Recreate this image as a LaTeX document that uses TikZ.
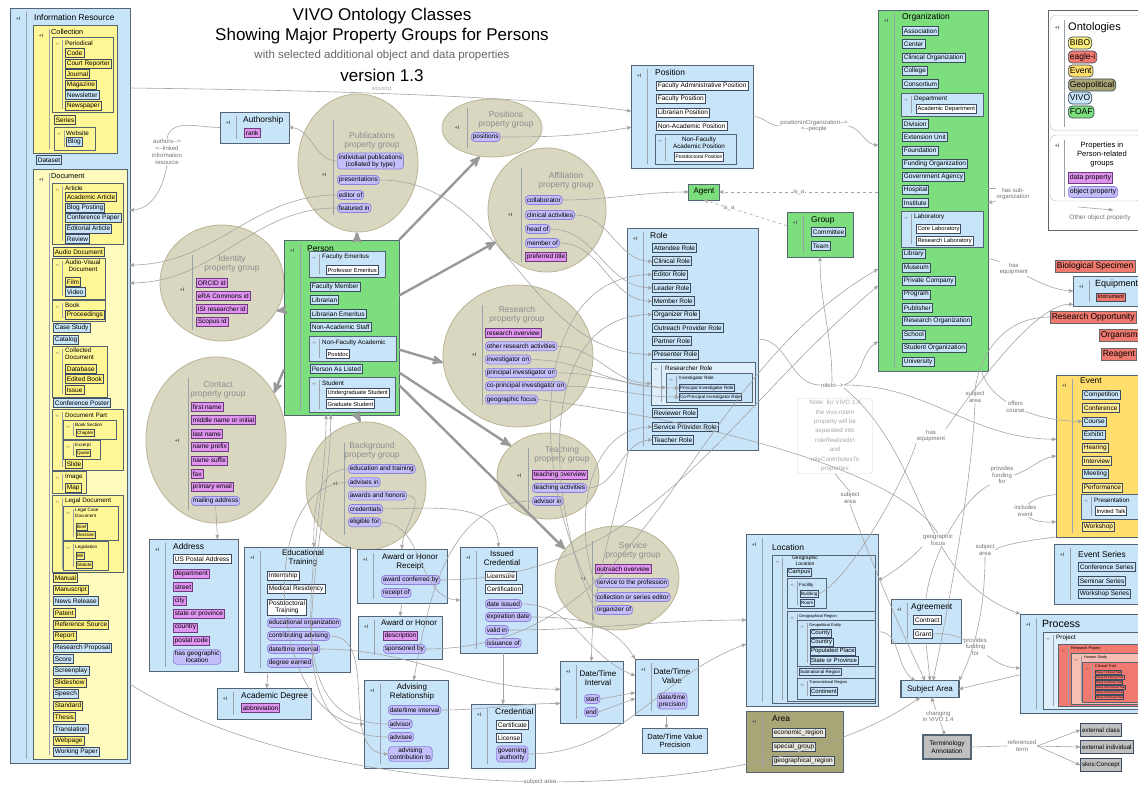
\documentclass[tikz,border=0pt]{standalone}
\usepackage{fontspec}
\setmainfont{Liberation Sans}[Ligatures=TeXOff]
\usepackage{tikz}
\usetikzlibrary{arrows}
\usetikzlibrary{shapes.geometric,positioning}

\definecolor{vivo}{RGB}{200,228,248}
\definecolor{vivoL}{RGB}{222,238,250}
\definecolor{bline}{RGB}{85,100,115}
\definecolor{iline}{RGB}{60,75,95}
\definecolor{orgG}{RGB}{125,222,125}
\definecolor{biboC}{RGB}{255,246,150}
\definecolor{docY}{RGB}{255,250,190}
\definecolor{bibI}{RGB}{255,240,125}
\definecolor{evtY}{RGB}{255,222,110}
\definecolor{evtI}{RGB}{255,236,150}
\definecolor{dataP}{RGB}{224,150,240}
\definecolor{dataL}{RGB}{110,60,125}
\definecolor{objP}{RGB}{196,190,250}
\definecolor{objL}{RGB}{140,130,220}
\definecolor{grpF}{RGB}{218,215,192}
\definecolor{grpL}{RGB}{185,180,150}
\definecolor{eagR}{RGB}{240,122,112}
\definecolor{eagL}{RGB}{248,190,180}
\definecolor{geoO}{RGB}{168,165,118}
\definecolor{grayB}{RGB}{192,192,192}
\definecolor{conn}{RGB}{165,165,165}

\tikzset{
  box/.style={draw=bline,line width=.8pt,inner sep=0pt,outer sep=0pt},
  plus/.style={font=\fontsize{5}{5}\selectfont\bfseries,text=black!65,inner sep=0pt},
  sepl/.style={draw=bline!60,line width=.5pt},
  ttl/.style={anchor=west,inner sep=0pt,font=\fontsize{8.4}{9}\selectfont},
  mtl/.style={ttl,font=\fontsize{7.3}{8}\selectfont},
  stl/.style={ttl,font=\fontsize{6.3}{7}\selectfont},
  sstl/.style={ttl,font=\fontsize{4.6}{5.6}\selectfont},
  ctl/.style={align=center,inner sep=0pt,font=\fontsize{8}{8.8}\selectfont},
  it/.style={draw=iline,fill=vivo,line width=.7pt,anchor=west,inner sep=1.5pt,
    minimum height=9pt,font=\fontsize{6.5}{7}\selectfont},
  wit/.style={it,fill=white},
  pit/.style={it,fill=white,font=\fontsize{5.8}{6}\selectfont,minimum height=8.5pt,inner sep=1.2pt},
  bib/.style={it,fill=bibI},
  evi/.style={it,fill=evtI},
  dp/.style={it,fill=dataP,draw=dataL},
  op/.style={it,fill=objP,draw=objL,rounded corners=3.5pt,align=center},
  sit/.style={it,line width=.5pt,inner sep=.8pt,minimum height=7pt,font=\fontsize{4.6}{5}\selectfont},
  sbib/.style={sit,fill=bibI},
  git/.style={sit,font=\fontsize{6}{6}\selectfont,minimum height=8pt},
  tit/.style={sit,fill=eagR,line width=.3pt,inner sep=.4pt,minimum height=4.6pt,font=\fontsize{2.8}{3}\selectfont},
  eag/.style={it,fill=eagR,draw=black!60,font=\fontsize{8.5}{9}\selectfont,minimum height=12pt},
  leg/.style={it,rounded corners=4pt,font=\fontsize{8.5}{9}\selectfont,minimum height=12pt},
  grp/.style={ellipse,draw=grpL,fill=grpF,line width=.8pt,inner sep=0pt},
  gtl/.style={align=center,text=black!45,font=\fontsize{8.5}{9.5}\selectfont},
  lbl/.style={align=center,text=black!55,fill=white,inner sep=.6pt,font=\fontsize{6}{6.8}\selectfont},
  cn/.style={draw=conn,line width=.6pt,->},
  thk/.style={draw=black!40,line width=2.4pt,->},
}

\newcommand{\ontbox}[6][vivo]{%
  \node[box,fill=#1,minimum width={#5-#3},minimum height={#6-#4}] (#2) at ({(#3+#5)/2},{(#4+#6)/2}) {};
  \node[plus] (#2-p) at (#3+8,#4+11) {+I};
  \draw[sepl] (#3+16,#4+4) -- (#3+16,#6-4);
}
\newcommand{\ontsub}[6][vivo]{%
  \node[box,line width=.5pt,fill=#1,minimum width={#5-#3},minimum height={#6-#4}] (#2) at ({(#3+#5)/2},{(#4+#6)/2}) {};
  \node[plus,font=\fontsize{3.5}{3.5}\selectfont] (#2-p) at (#3+5,#4+7) {+I};
  \draw[sepl,line width=.35pt] (#3+10,#4+3) -- (#3+10,#6-3);
}

\begin{document}
\begin{tikzpicture}[>=stealth',x=1pt,y=-1pt]
\useasboundingbox (0,0) rectangle (1138,789);
\fill[white] (0,0) rectangle (1138,789);
\clip (0,0) rectangle (1138,789);

% titles
\node[font=\fontsize{17}{17}\selectfont] (tt1) at (382,16) {VIVO Ontology Classes};
\node[font=\fontsize{17}{17}\selectfont] (tt2) at (382,36) {Showing Major Property Groups for Persons};
\node[font=\fontsize{11.5}{12}\selectfont,text=black!60] (tt3) at (382,56) {with selected additional object and data properties};
\node[font=\fontsize{17}{17}\selectfont] (tt4) at (382,75) {version 1.3};
\node[font=\fontsize{4.5}{5}\selectfont,text=black!40] (tt5) at (382,89) {8/21/2011};

% information resource
\ontbox{ir}{10}{8}{130}{763}
\node[ttl] (irT) at (34,17) {Information Resource};
\ontbox[biboC]{coll}{33}{25}{117}{153}
\node[mtl] (collT) at (51,32) {Collection};
\ontsub[biboC]{per}{52}{37}{113}{112}
\node[stl] (perT) at (65,43) {Periodical};
\foreach \nm/\s [count=\i] in {Code/bib,Court Reporter/bib,Journal/bib,Magazine/bib,Newsletter/it,Newspaper/bib}
  \node[\s] (per\i) at (65,42.5+10.5*\i) {\nm};
\node[bib] (ser) at (54,120) {Series};
\ontsub[biboC]{web}{54}{127}{95}{150}
\node[stl] (webT) at (66,133) {Website};
\node[it] (blog) at (66,142) {Blog};
\node[it] (dset) at (36,160) {Dataset};

\ontbox[docY]{doc}{33}{169}{127}{759}
\node[mtl] (docT) at (51,176) {Document};
\ontsub[biboC]{art}{52}{183}{123}{244}
\node[stl] (artT) at (65,188) {Article};
\foreach \nm/\s [count=\i] in {Academic Article/bib,Blog Posting/it,Conference Paper/it,Editorial Article/it,Review/it}
  \node[\s] (art\i) at (65,186.5+10.5*\i) {\nm};
\node[bib] (aud) at (53,252) {Audio Document};
\ontsub[biboC]{av}{52}{258}{105}{299}
\node[stl,anchor=center,align=center] (avT) at (83,266) {Audio-Visual\\Document};
\node[bib] (film) at (65,282) {Film};
\node[it] (video) at (65,292) {Video};
\ontsub[biboC]{book}{52}{300}{105}{321}
\node[stl] (bookT) at (65,305) {Book};
\node[bib] (prcd) at (65,315) {Proceedings};
\node[it] (cstd) at (53,328) {Case Study};
\node[it] (catl) at (53,340) {Catalog};
\ontsub[biboC]{cold}{52}{346}{107}{397}
\node[stl,anchor=north west,align=left] (coldT) at (65,348) {Collected\\Document};
\node[bib] (cd1) at (65,369) {Database};
\node[bib] (cd2) at (65,379) {Edited Book};
\node[bib] (cd3) at (65,390) {Issue};
\node[it] (cpst) at (53,403) {Conference Poster};
\ontsub[biboC]{dpt}{52}{409}{123}{470}
\node[stl] (dptT) at (65,415) {Document Part};
\ontsub[biboC]{bsec}{63}{420}{116}{439}
\node[sstl] (bsecT) at (75,425) {Book Section};
\node[sbib] (chap) at (76,433) {Chapter};
\ontsub[biboC]{exc}{63}{440}{100}{459}
\node[sstl] (excT) at (75,445) {Excerpt};
\node[sbib] (quot) at (76,453) {Quote};
\node[bib] (slid) at (65,464) {Slide};
\ontsub[biboC]{img}{52}{471}{86}{493}
\node[stl] (imgT) at (65,477) {Image};
\node[bib] (map) at (65,488) {Map};
\ontsub[biboC]{legd}{52}{495}{123}{572}
\node[stl] (legdT) at (65,501) {Legal Document};
\ontsub[biboC]{lcd}{63}{506}{118}{540}
\node[sstl,anchor=north west,align=left] (lcdT) at (75,508) {Legal Case\\Document};
\node[sbib] (brief) at (76,527) {Brief};
\node[sbib] (deci) at (76,535) {Decision};
\ontsub[biboC]{legs}{63}{541}{108}{570}
\node[sstl] (legsT) at (75,547) {Legislation};
\node[sbib] (bill) at (76,556) {Bill};
\node[sbib] (stat) at (76,565) {Statute};
\foreach \nm/\s [count=\i] in {Manual/bib,Manuscript/bib,News Release/it,Patent/bib,Reference Source/bib,Report/bib,Research Proposal/it,Score/it,Screenplay/it,Slideshow/bib,Speech/it,Standard/bib,Thesis/bib,Translation/it,Webpage/bib,Working Paper/it}
  \node[\s] (dl\i) at (53,566.4+11.6*\i) {\nm};

% authorship
\ontbox{auth}{220}{112}{289}{143}
\node[ttl] (authT) at (243,120) {Authorship};
\node[dp] (rank) at (244,133) {rank};
\node[lbl] (authl) at (167,152) {authors-->\\<--linked\\information\\resource};

% property groups
\node[grp,minimum width=120,minimum height=138] (pub) at (358,163) {};
\node[plus] (pub-p) at (324,175) {+I};
\draw[sepl] (333,120) -- (333,215);
\node[gtl] (pubT) at (372,141) {Publications\\property group};
\node[op] (pu1) at (337,161) {individual publications\\(collated by type)};
\node[op] (pu2) at (337,180) {presentations};
\node[op] (pu3) at (337,195) {editor of};
\node[op] (pu4) at (337,208) {featured in};

\node[grp,minimum width=100,minimum height=58] (posg) at (492,128) {};
\node[plus] (posg-p) at (457,128) {+I};
\draw[sepl] (467,108) -- (467,148);
\node[gtl] (posgT) at (506,120) {Positions\\property group};
\node[op] (pg1) at (471,137) {positions};

\node[grp,minimum width=118,minimum height=124] (aff) at (547,210) {};
\node[plus] (aff-p) at (510,215) {+I};
\draw[sepl] (521,168) -- (521,262);
\node[gtl] (affT) at (566,181) {Affiliation\\property group};
\node[op] (af1) at (525,200) {collaborator};
\node[op] (af2) at (525,215) {clinical activities};
\node[op] (af3) at (525,229) {head of};
\node[op] (af4) at (525,243) {member of};
\node[dp] (af5) at (525,257) {preferred title};

\node[grp,minimum width=124,minimum height=116] (ident) at (222,283) {};
\node[plus] (ident-p) at (182,290) {+I};
\draw[sepl] (192,255) -- (192,330);
\node[gtl] (identT) at (232,264) {Identity\\property group};
\node[dp] (id1) at (196,283) {ORCID id};
\node[dp] (id2) at (196,296) {eRA Commons id};
\node[dp] (id3) at (196,309) {ISI researcher id};
\node[dp] (id4) at (196,322) {Scopus id};

\node[grp,minimum width=140,minimum height=166] (cont) at (216,440) {};
\node[plus] (cont-p) at (177,441) {+I};
\draw[sepl] (188,378) -- (188,510);
\node[gtl] (contT) at (218,390) {Contact\\property group};
\foreach \nm [count=\i] in {first name,middle name or initial,last name,name prefix,name suffix,fax,primary email}
  \node[dp] (ct\i) at (191,393.5+13.4*\i) {\nm};
\node[op] (ct8) at (191,501) {mailing address};

\node[grp,minimum width=150,minimum height=142] (res) at (518,356) {};
\node[plus] (res-p) at (474,355) {+I};
\draw[sepl] (482,305) -- (482,405);
\node[gtl] (resT) at (517,315) {Research\\property group};
\node[dp] (rs1) at (485,333) {research overview};
\foreach \nm [count=\i from 2] in {other research activities,investigator on,principal investigator on,co-principal investigator on,geographic focus}
  \node[op] (rs\i) at (485,319.7+13.3*\i) {\nm};

\node[grp,minimum width=102,minimum height=86] (teach) at (548,476) {};
\node[plus] (teach-p) at (519,476) {+I};
\draw[sepl] (528,448) -- (528,510);
\node[gtl] (teachT) at (562,455) {Teaching\\property group};
\node[dp] (tc1) at (532,475) {teaching overview};
\node[op] (tc2) at (532,488) {teaching activities};
\node[op] (tc3) at (532,501) {advisor in};

\node[grp,minimum width=120,minimum height=128] (bg) at (366,486) {};
\node[plus] (bg-p) at (335,484) {+I};
\draw[sepl] (344,443) -- (344,535);
\node[gtl] (bgT) at (372,451) {Background\\property group};
\foreach \nm [count=\i] in {education and training,advises in,awards and honors,credentials,eligible for}
  \node[op] (bg\i) at (348,455.7+13.3*\i) {\nm};

\node[grp,minimum width=124,minimum height=104] (serv) at (617,578) {};
\node[plus] (serv-p) at (583,579) {+I};
\draw[sepl] (592,541) -- (592,620);
\node[gtl] (servT) at (633,551) {Service\\property group};
\node[dp] (sv1) at (595,569) {outreach overview};
\node[op] (sv2) at (595,583) {service to the profession};
\node[op] (sv3) at (595,597) {collection or series editor};
\node[op] (sv4) at (595,610) {organizer of};

% person
\ontbox[orgG]{person}{284}{240}{399}{415}
\node[ttl] (personT) at (307,249) {Person};
\ontsub{femr}{309}{251}{385}{277}
\node[stl] (femrT) at (322,257) {Faculty Emeritus};
\node[pit] (pe1) at (326,270) {Professor Emeritus};
\node[it] (pe2) at (310,287) {Faculty Member};
\node[it] (pe3) at (310,300) {Librarian};
\node[it] (pe4) at (310,314) {Librarian Emeritus};
\node[it] (pe5) at (310,327) {Non-Academic Staff};
\ontsub{nfa}{309}{336}{396}{361}
\node[stl] (nfaT) at (322,343) {Non-Faculty Academic};
\node[pit] (pdoc) at (326,354) {Postdoc};
\node[it] (pe6) at (310,369) {Person As Listed};
\ontsub{stud}{309}{377}{395}{412}
\node[stl] (studT) at (322,383) {Student};
\node[pit] (pe7) at (326,393) {Undergraduate Student};
\node[pit] (pe8) at (326,404) {Graduate Student};

% position, agent, group, role
\ontbox{pos}{631}{65}{753}{168}
\node[ttl] (posT) at (655,72) {Position};
\foreach \nm [count=\i] in {Faculty Administrative Position,Faculty Position,Librarian Position,Non-Academic Position}
  \node[wit] (po\i) at (656,72.7+13.3*\i) {\nm};
\ontsub{nfap}{655}{134}{736}{164}
\node[stl,anchor=center,align=center] (nfapT) at (699,143) {Non-Faculty\\Academic Position};
\node[pit,font=\fontsize{5}{5}\selectfont] (po5) at (674,157) {Postdoctoral Position};
\node[lbl] (pio) at (814,126) {positionInOrganization-->\\<--people};

\node[box,fill=orgG,minimum width=31,minimum height=16,font=\fontsize{8}{8}\selectfont] (agent) at (704,192) {Agent};

\ontbox[orgG]{grp}{787}{212}{853}{257}
\node[ttl] (grpT) at (811,220) {Group};
\node[it] (gr1) at (811,232) {Committee};
\node[it] (gr2) at (811,246) {Team};

\ontbox{role}{627}{228}{758}{450}
\node[ttl] (roleT) at (650,235) {Role};
\foreach \nm [count=\i] in {Attendee Role,Clinical Role,Editor Role,Leader Role,Member Role,Organizer Role,Outreach Provider Role,Partner Role,Presenter Role}
  \node[it] (rl\i) at (652,234.7+13.3*\i) {\nm};
\ontsub[vivoL]{rsr}{651}{362}{755}{405}
\node[stl] (rsrT) at (665,368) {Researcher Role};
\ontsub{ivr}{666}{373}{752}{402}
\node[sstl] (ivrT) at (679,378) {Investigator Role};
\node[sit] (pir) at (679,388) {Principal Investigator Role};
\node[sit] (cpir) at (679,397) {Co-Principal Investigator Role};
\node[it] (rl10) at (652,413) {Reviewer Role};
\node[it] (rl11) at (652,427) {Service Provider Role};
\node[it] (rl12) at (652,440) {Teacher Role};

\node[draw=black!15,rounded corners=4pt,text=black!35,align=center,inner sep=2pt,minimum width=75,
  font=\fontsize{6.2}{9.4}\selectfont] (note) at (835,436) {Note: for VIVO 1.4\\the vivo:roleIn\\property will be\\separated into\\roleRealizedIn\\and\\roleContributesTo\\properties};
\node[lbl] (rin) at (832,385) {roleIn-->};

% organization
\ontbox[orgG]{org}{878}{10}{988}{371}
\node[ttl] (orgT) at (902,17) {Organization};
\foreach \nm [count=\i] in {Association,Center,Clinical Organization,College,Consortium}
  \node[it] (oa\i) at (902,17.8+13.2*\i) {\nm};
\ontsub{dept}{901}{93}{983}{116}
\node[stl] (deptT) at (914,99) {Department};
\node[pit] (od) at (916,109) {Academic Department};
\foreach \nm [count=\i] in {Division,Extension Unit,Foundation,Funding Organization,Government Agency,Hospital,Institute}
  \node[it] (ob\i) at (902,110.8+13.2*\i) {\nm};
\ontsub{lab}{901}{211}{983}{247}
\node[stl] (labT) at (914,217) {Laboratory};
\node[pit] (ol1) at (916,229) {Core Laboratory};
\node[pit] (ol2) at (916,241) {Research Laboratory};
\foreach \nm [count=\i] in {Library,Museum,Private Company,Program,Publisher,Research Organization,School,Student Organization,University}
  \node[it] (oc\i) at (902,240.8+13.4*\i) {\nm};
\node[lbl] (hso) at (1013,194) {has sub-\\organization};

% legend
\node[draw=black!60,fill=white,minimum width=100,minimum height=220,inner sep=0pt] (leg0) at (1098,120) {};
\node[draw=black!25,rounded corners=6pt,minimum width=92,minimum height=115,inner sep=0pt] (legO) at (1096,73) {};
\node[plus] (legO-p) at (1057,28) {+I};
\draw[sepl] (1064,20) -- (1064,127);
\node[ttl,font=\fontsize{11}{11}\selectfont] (legOT) at (1068,28) {Ontologies};
\node[leg,fill=bibI] (lo1) at (1068,43) {BIBO};
\node[leg,fill=eagR] (lo2) at (1068,57) {eagle-i};
\node[leg,fill=evtY] (lo3) at (1068,71) {Event};
\node[leg,fill=geoO] (lo4) at (1068,85) {Geopolitical};
\node[leg,fill=vivo] (lo5) at (1068,98) {VIVO};
\node[leg,fill=orgG] (lo6) at (1068,112) {FOAF};
\node[draw=black!25,rounded corners=6pt,minimum width=92,minimum height=66,inner sep=0pt] (legP) at (1096,168) {};
\node[plus] (legP-p) at (1057,146) {+I};
\draw[sepl] (1064,140) -- (1064,197);
\node[align=center,font=\fontsize{7.6}{9}\selectfont] (legPT) at (1102,155) {Properties in\\Person-related\\groups};
\node[dp,font=\fontsize{7}{7}\selectfont,minimum height=11pt] (legD) at (1068,178) {data property};
\node[op,font=\fontsize{7}{7}\selectfont,minimum height=11pt] (legB) at (1068,192) {object property};
\coordinate (lgA) at (1078,207);
\coordinate (lgB) at (1113,210);
\node[text=black!55,font=\fontsize{6.5}{7}\selectfont] (lgT) at (1100,218) {Other object property};

% eagle-i and events
\node[eag] (bio) at (1055,266) {Biological Specimen};
\ontbox{equip}{1073}{276}{1148}{306}
\node[ttl,font=\fontsize{9}{9}\selectfont] (equipT) at (1095,284) {Equipment};
\node[it,fill=eagR,font=\fontsize{5.5}{6}\selectfont,minimum height=8pt] (instr) at (1096,297) {Instrument};
\node[eag] (resop) at (1050,317) {Research Opportunity};
\node[eag] (orgm) at (1099,335) {Organism};
\node[eag] (reag) at (1101,354) {Reagent};

\ontbox[evtY]{event}{1056}{375}{1148}{537}
\node[ttl] (eventT) at (1080,381) {Event};
\foreach \nm/\s [count=\i] in {Competition/it,Conference/evi,Course/it,Exhibit/it,Hearing/evi,Interview/evi,Meeting/it,Performance/evi}
  \node[\s] (ev\i) at (1082,381.8+13.2*\i) {\nm};
\ontsub{pres}{1081}{494}{1140}{519}
\node[stl] (presT) at (1094,500) {Presentation};
\node[pit] (itlk) at (1095,511) {Invited Talk};
\node[evi] (ev9) at (1082,527) {Workshop};

\ontbox{evser}{1054}{544}{1148}{604}
\node[ttl] (evserT) at (1078,554) {Event Series};
\node[it] (es1) at (1078,567) {Conference Series};
\node[it] (es2) at (1078,581) {Seminar Series};
\node[it] (es3) at (1078,594) {Workshop Series};

\ontbox{proc}{1020}{614}{1148}{713}
\node[ttl,font=\fontsize{10.5}{11}\selectfont] (procT) at (1042,624) {Process};
\ontsub[vivoL]{prj}{1043}{632}{1148}{709}
\node[stl] (prjT) at (1056,638) {Project};
\ontsub[eagR]{rpj}{1058}{644}{1148}{706}
\node[sstl,font=\fontsize{3.8}{4}\selectfont] (rpjT) at (1071,649) {Research Project};
\ontsub[eagL]{hst}{1071}{653}{1148}{704}
\node[sstl,font=\fontsize{3.8}{4}\selectfont] (hstT) at (1084,658) {Human Study};
\ontsub[eagR]{ctr}{1082}{662}{1148}{702}
\node[sstl,font=\fontsize{3.8}{4}\selectfont] (ctrT) at (1095,666) {Clinical Trial};
\foreach \nm [count=\i] in {Phase I Clinical Trial,Phase I/II Clinical Trial,Phase II Clinical Trial,Phase II/III Clinical Trial,Phase III Clinical Trial,Phase IV Clinical Trial}
  \node[tit] (ph\i) at (1095,667+5*\i) {\nm};

% agreement, subject area, terminology
\ontbox{agr}{891}{599}{961}{643}
\node[ttl] (agrT) at (911,607) {Agreement};
\node[wit] (ag1) at (913,620) {Contract};
\node[wit] (ag2) at (913,634) {Grant};
\node[box,fill=vivo,line width=1.2pt,minimum width=58,minimum height=17,font=\fontsize{8}{8}\selectfont] (subj) at (930,689) {Subject Area};
\node[box,fill=grayB,line width=1.2pt,align=center,minimum width=48,minimum height=24,font=\fontsize{6.5}{7.5}\selectfont] (term) at (947,747) {Terminology\\Annotation};
\node[it,fill=grayB,line width=1pt,minimum height=13pt,font=\fontsize{6.2}{7}\selectfont] (ex1) at (1080,730) {external class};
\node[it,fill=grayB,line width=1pt,minimum height=13pt,font=\fontsize{6.2}{7}\selectfont] (ex2) at (1080,747) {external individual};
\node[it,fill=grayB,line width=1pt,minimum height=13pt,font=\fontsize{6.2}{7}\selectfont] (ex3) at (1080,765) {skos:Concept};

% location and area
\ontbox{loc}{746}{534}{878}{706}
\node[ttl] (locT) at (772,547) {Location};
\ontsub{geol}{772}{555}{875}{703}
\node[sstl,anchor=north,align=center,font=\fontsize{5}{5.8}\selectfont] (geolT) at (805,556) {Geographic\\Location};
\node[git] (camp) at (787,572) {Campus};
\ontsub{fac}{787}{578}{826}{608}
\node[sstl] (facT) at (799,585) {Facility};
\node[sit] (fa1) at (800,594) {Building};
\node[sit] (fa2) at (800,603) {Room};
\ontsub{geor}{787}{611}{875}{701}
\node[sstl,font=\fontsize{4}{4}\selectfont] (georT) at (799,616) {Geographical Region};
\ontsub{gpe}{797}{620}{875}{666}
\node[sstl,font=\fontsize{4}{4}\selectfont] (gpeT) at (809,625) {Geopolitical Entity};
\foreach \nm [count=\i] in {County,Country,Populated Place,State or Province}
  \node[git] (ge\i) at (810,624+9*\i) {\nm};
\node[sit] (snr) at (799,672) {Subnational Region};
\ontsub{tnr}{797}{678}{875}{699}
\node[sstl,font=\fontsize{4}{4}\selectfont] (tnrT) at (809,682) {Transnational Region};
\node[git] (ctn) at (810,691) {Continent};

\ontbox[geoO]{area}{746}{711}{843}{772}
\node[ttl] (areaT) at (772,719) {Area};
\node[it,fill=geoO!25] (ar1) at (772,733) {economic\_region};
\node[it,fill=geoO!25] (ar2) at (772,747) {special\_group};
\node[it,fill=geoO!25] (ar3) at (772,761) {geographical\_region};

% date/time
\ontbox{dti}{560}{661}{623}{723}
\node[ctl] (dtiT) at (598,678) {Date/Time\\Interval};
\node[op] (dt1) at (584,699) {start};
\node[op] (dt2) at (584,712) {end};
\ontbox{dtv}{635}{659}{698}{715}
\node[ctl] (dtvT) at (672,676) {Date/Time\\Value};
\node[op] (dv1) at (657,701) {date/time\\precision};
\node[box,fill=vivo,align=center,minimum width=65,minimum height=25,font=\fontsize{7.5}{8.5}\selectfont] (dtvp) at (675,741) {Date/Time Value\\Precision};

% address, training, awards, credentials
\ontbox{addr}{149}{539}{238}{671}
\node[ttl] (addrT) at (173,546) {Address};
\node[wit] (ad1) at (173,559) {US Postal Address};
\foreach \nm [count=\i] in {department,street,city,state or province,country,postal code}
  \node[dp] (adp\i) at (173,560.5+13.4*\i) {\nm};
\node[op] (ad8) at (173,657) {has geographic\\location};

\ontbox{edu}{244}{547}{350}{672}
\node[ctl] (eduT) at (303,558) {Educational\\Training};
\node[wit] (ed1) at (267,576) {Internship};
\node[wit] (ed2) at (267,589) {Medical Residency};
\node[wit,align=center] (ed3) at (267,607) {Postdoctoral\\Training};
\node[op] (ed4) at (267,623) {educational organization};
\node[op] (ed5) at (267,636) {contributing advising};
\node[op] (ed6) at (267,649) {date/time interval};
\node[op] (ed7) at (267,663) {degree earned};

\ontbox{deg}{217}{688}{311}{719}
\node[ttl] (degT) at (241,696) {Academic Degree};
\node[dp] (dg1) at (241,708) {abbreviation};

\ontbox{ahr}{357}{549}{447}{603}
\node[ctl] (ahrT) at (410,562) {Award or Honor\\Receipt};
\node[op] (ah1) at (381,580) {award conferred by};
\node[op] (ah2) at (381,593) {receipt of};

\ontbox{aoh}{358}{616}{442}{659}
\node[ctl] (aohT) at (409,623) {Award or Honor};
\node[dp] (ao1) at (383,636) {description};
\node[op] (ao2) at (383,649) {sponsored by};

\ontbox{adv}{364}{680}{448}{768}
\node[ctl] (advT) at (412,692) {Advising\\Relationship};
\node[op] (av1) at (388,710) {date/time interval};
\node[op] (av2) at (388,724) {advisor};
\node[op] (av3) at (388,737) {advisee};
\node[op] (av4) at (388,754) {advising\\contribution to};

\ontbox{icred}{460}{547}{537}{653}
\node[ctl] (icredT) at (502,558) {Issued\\Credential};
\node[wit] (ic1) at (485,576) {Licensure};
\node[wit] (ic2) at (485,589) {Certification};
\node[op] (ic3) at (485,604) {date issued};
\node[op] (ic4) at (485,617) {expiration date};
\node[op] (ic5) at (485,630) {valid in};
\node[op] (ic6) at (485,643) {issuance of};

\ontbox{cred}{471}{704}{535}{768}
\node[ttl] (credT) at (495,711) {Credential};
\node[wit] (cr1) at (496,725) {Certificate};
\node[wit] (cr2) at (496,738) {License};
\node[op] (cr3) at (496,754) {governing\\authority};

% connectors from person
\draw[thk] (person.80) -- (pub.south -| person.80);
\draw[thk] (person.north east) -- (posg.247);
\draw[thk] (person.29) -- (aff.212);
\draw[thk] (person.163) -- (ident.-27);
\draw[thk] (person.216) -- (cont.39);
\draw[thk] (person.-21) -- (res.185);
\draw[thk] (person.-38) -- (teach.141);
\draw[thk] (person.-80) -- (bg.95);
\draw[thk] (person.-45) -- (serv.151);

% other object properties
\coordinate (irA) at (130,88);
\coordinate (irB) at (130,265);
\coordinate (irC) at (130,283);
\coordinate (irD) at (130,210);
\coordinate (irS) at (130,684);
\coordinate (orgP) at (878,145);
\coordinate (orgA) at (878,192);
\coordinate (orgS1) at (988,188);
\coordinate (orgS2) at (988,203);

\draw[cn] (lgA) -- (lgB);
\draw[cn] (pu1.west) to[out=180,in=0] (auth.east);
\draw[cn,-] (auth.west) to[out=180,in=80] (authl.north);
\draw[cn] (authl.south) to[out=-100,in=0] (irD);
\draw[cn] (pu3.west) to[out=180,in=0] (irB);
\draw[cn] (pu4.west) to[out=180,in=0] (irC);
\draw[cn] (irA) .. controls (300,90) and (520,95) .. (pos.175);
\draw[cn] (pg1.east) to[out=0,in=190] (pos.190);
\draw[cn,-] (pos.east) to[out=0,in=180] (pio.west);
\draw[cn] (pio.east) to[out=-10,in=180] (orgP);
\draw[cn,dashed] (orgA) -- node[lbl] (isa1) {is\_a} (agent.east);
\draw[cn,dashed] (grp.165) -- node[lbl,pos=.7] (isa2) {is\_a} (agent.south);
\draw[cn] (af1.east) to[out=0,in=180] (agent.west);
\draw[cn] (af2.east) to[out=0,in=180] (rl2.west);
\draw[cn] (af3.east) to[out=0,in=180] (rl4.west);
\draw[cn] (af4.east) to[out=0,in=180] (rl5.west);
\draw[cn] (pu2.east) to[out=0,in=180] (rl9.west);
\draw[cn] (rs2.east) to[out=0,in=180] (rsr.west);
\draw[cn] (rs3.east) to[out=0,in=180] (ivr.west);
\draw[cn] (rs4.east) to[out=0,in=180] (pir.west);
\draw[cn] (rs5.east) to[out=0,in=180] (cpir.west);
\draw[cn] (tc2.east) to[out=0,in=180] (rl12.west);
\draw[cn] (sv2.west) to[out=110,in=180] (rl11.west);
\draw[cn] (sv3.west) to[out=120,in=180] (rl3.west);
\draw[cn] (sv4.west) to[out=115,in=180] (rl6.west);
\draw[cn,-] (role.east) to[out=0,in=180] (rin.west);
\draw[cn] (rin.east) to[out=20,in=-150] (org.-110);
\draw[cn] (rin.east) to[out=0,in=180] (event.160);
\draw[cn] (rin.south east) to[out=-40,in=160] (proc.north west);
\draw[cn] (rin.north) to[out=90,in=-90] (grp.south);
\draw[cn] (role.-120) to[out=-100,in=90] (dti.north);
\draw[cn] (ct8.south) -- (addr.70);
\draw[cn] (bg1.west) to[out=180,in=90] (edu.75);
\draw[cn] (bg2.west) to[out=180,in=180] (adv.west);
\draw[cn] (bg3.east) to[out=0,in=90] (ahr.north);
\draw[cn] (bg4.east) to[out=0,in=90] (icred.north);
\draw[cn] (bg5.east) to[out=0,in=180] (icred.west);
\draw[cn] (av2.west) to[out=180,in=-90] (person.-100);
\draw[cn] (av3.west) to[out=180,in=-90] (person.-97);
\draw[cn] (ahr.south) -- (aoh.north);
\draw[cn] (ah1.east) to[out=0,in=-140] (org.-120);
\draw[cn] (ao2.east) to[out=0,in=-150] (org.-125);
\draw[cn] (tc3.west) to[out=180,in=80] (adv.80);
\draw[cn] (edu.-115) -- (deg.80);
\draw[cn] (ed6.east) to[out=0,in=180] (dti.175);
\draw[cn] (ed5.east) to[out=0,in=180] (av4.west);
\draw[cn] (av1.east) to[out=0,in=180] (dti.200);
\draw[cn] (cred.north |- icred.south) -- (cred.north);
\draw[cn] (ic3.east) to[out=0,in=160] (dtv.160);
\draw[cn] (ic4.east) to[out=0,in=120] (dtv.north west);
\draw[cn] (ic5.east) to[out=0,in=180] (loc.west);
\draw[cn] (dt1.east) -- (dtv.190);
\draw[cn] (dt2.east) -- (dtv.200);
\draw[cn] (dtv.south) -- (dtvp.north -| dtv.south);
\draw[cn] (cr3.east) to[out=0,in=200] (loc.200);
\draw[cn] (irS) .. controls (330,812) and (760,812) .. node[lbl] (sal0) {subject area} (subj.220);
\draw[cn] (agr.south) -- (subj.north);
\draw[cn] (loc.-10) to[out=0,in=150] (subj.150);
\draw[cn] (ag2.east) .. controls (975,630) and (985,668) .. node[lbl,pos=.45] (pff2) {provides\\funding\\for} (proc.184);
\draw[cn] (proc.190) -- (subj.east);
\draw[cn,<->] (subj.-80) -- node[lbl] (chg) {changing\\in VIVO 1.4} (term.100);
\node[lbl] (rft) at (1022,746) {referenced\\term};
\draw[cn,-] (term.east) -- (rft.west);
\draw[cn] (rft.east) -- (ex1.west);
\draw[cn] (rft.east) -- (ex2.west);
\draw[cn] (rft.east) -- (ex3.west);
\draw[cn,-] (orgS1) -- (hso.west |- orgS1);
\draw[cn] (hso.south west) -- (orgS2);
\draw[cn] (org.-51) .. controls (1010,262) and (1040,290) .. node[lbl,pos=.35] (heq1) {has\\equipment} (equip.west);
\draw[cn] (org.-75) .. controls (990,400) and (1030,421) .. node[lbl] (ofc) {offers\\course} (ev3.west);
\node[lbl] (sal1) at (975,397) {subject\\area};
\draw[cn,-] (resop.west) .. controls (1000,317) and (978,360) .. (sal1.north);
\draw[cn] (sal1.south) .. controls (972,480) and (950,600) .. (subj.70);
\node[lbl] (heq2) at (931,436) {has\\equipment};
\draw[cn,-] (fa1.east) .. controls (850,580) and (905,480) .. (heq2.south west);
\draw[cn] (heq2.north east) .. controls (980,380) and (1040,300) .. (equip.200);
\node[lbl] (pff1) at (1002,475) {provides\\funding\\for};
\draw[cn,-] (agr.north) .. controls (930,560) and (960,500) .. (pff1.south west);
\draw[cn] (pff1.east) .. controls (1030,470) and (1040,458) .. (event.west);
\draw[cn] (event.220) .. controls (1015,498) and (1015,525) .. node[lbl] (inev) {includes\\event} (event.235);
\node[lbl] (gfl) at (938,540) {geographic\\focus};
\draw[cn,-] (rs6.east) .. controls (700,420) and (900,470) .. (gfl.north);
\draw[cn] (gfl.south west) .. controls (910,560) and (890,575) .. (loc.31);
\node[lbl] (sal2) at (985,550) {subject\\area};
\draw[cn,-] (event.south west) .. controls (1030,540) and (1000,545) .. (sal2.east);
\draw[cn] (sal2.south) .. controls (985,620) and (970,660) .. (subj.north east);
\node[lbl] (sal3) at (850,498) {subject\\area};
\draw[cn,-] (note.south) -- (sal3.north);
\draw[cn] (sal3.south) .. controls (870,560) and (905,640) .. (subj.120);
\end{tikzpicture}
\end{document}
